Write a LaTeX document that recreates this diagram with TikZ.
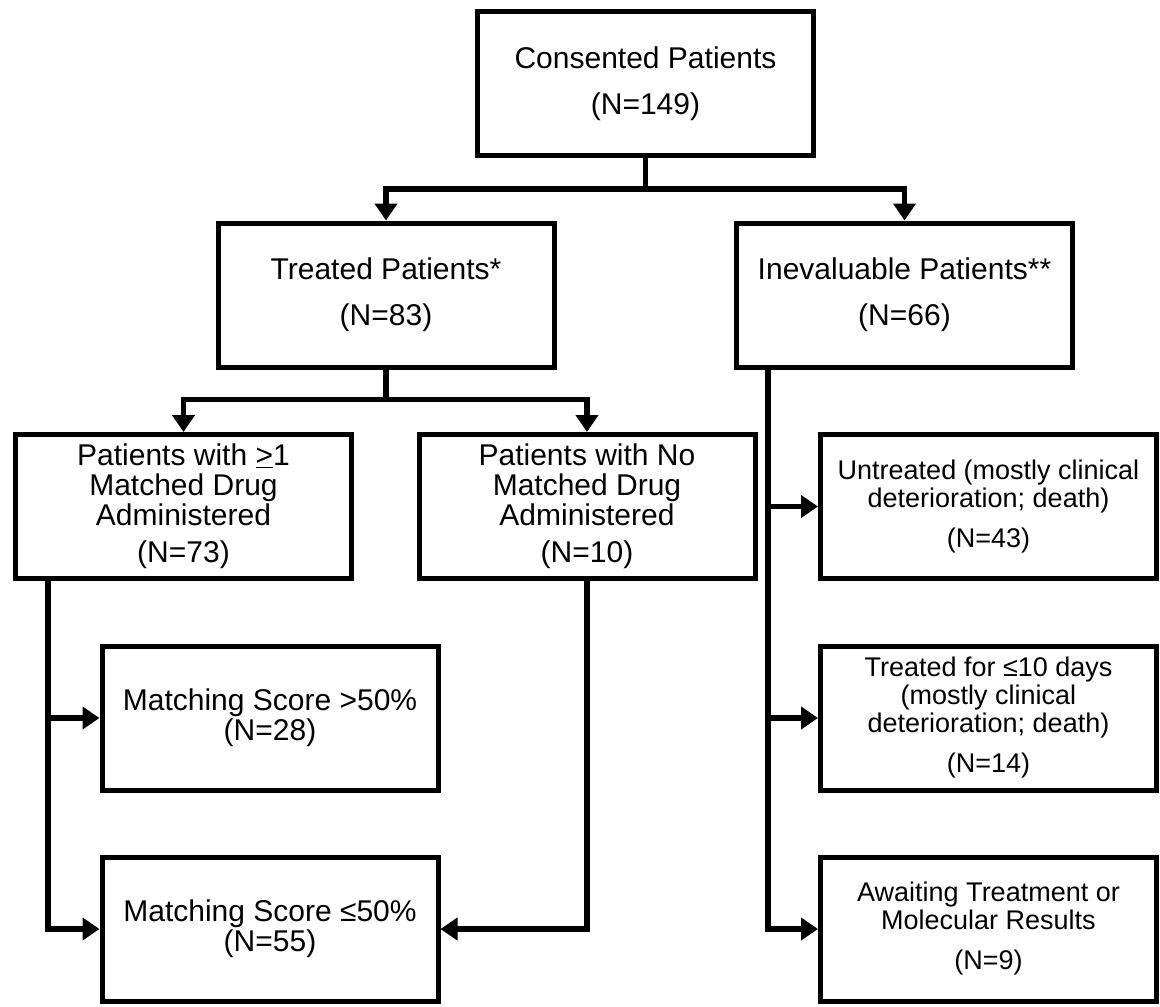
\documentclass[tikz,border=0pt]{standalone}
\usepackage{fontspec}
\setmainfont{Liberation Sans}
\usetikzlibrary{arrows.meta,positioning,calc}

\begin{document}
\begin{tikzpicture}[x=1pt, y=-1pt,
  box/.style={rectangle, draw=black, line width=5pt,
              minimum width=336pt, minimum height=144pt,
              inner sep=0pt, align=center, font=\fontsize{30}{30}\selectfont},
  sbox/.style={box, font=\fontsize{27}{28}\selectfont},
  arr/.style={-{Triangle[length=17pt,width=22pt]}, line width=5.5pt}
]
\useasboundingbox (0,0) rectangle (1160,1007);

% Row 1: all patients
\node[box] (consent) at (645.5,83.5) {Consented Patients\\[16pt](N=149)};

% Row 2: treated / inevaluable
\node[box] (treated) at (386,295) {Treated Patients*\\[16pt](N=83)};
\node[box] (ineval) at (904.5,295) {Inevaluable Patients**\\[16pt](N=66)};

% Row 3
\node[box] (matched) at (183.5,506.5) {Patients with \underline{>}1\\Matched Drug\\Administered\\[7pt](N=73)};
\node[box] (nomatch) at (587,506.5) {Patients with No\\Matched Drug\\Administered\\[7pt](N=10)};
\node[sbox] (untreated) at (988.5,506.5) {Untreated (mostly clinical\\deterioration; death)\\[12pt](N=43)};

% Row 4
\node[box] (high) at (270,718) {Matching Score >50\%\\(N=28)};
\node[sbox] (short) at (988.5,718) {Treated for ≤10 days\\(mostly clinical\\deterioration; death)\\[12pt](N=14)};

% Row 5
\node[box] (low) at (270,929) {Matching Score ≤50\%\\(N=55)};
\node[sbox] (await) at (988.5,929) {Awaiting Treatment or\\Molecular Results\\[12pt](N=9)};

% Spines
\coordinate (mspine) at ($(matched.south west)+(35,0)$);
\coordinate (ispine) at ($(ineval.south west)+(34,0)$);

% Arrows
\draw[arr] (consent.south) -- ++(0,31) -| (treated.north);
\draw[arr] (consent.south) -- ++(0,31) -| (ineval.north);
\draw[arr] (treated.south) -- ++(0,30) -| (matched.north);
\draw[arr] (treated.south) -- ++(0,30) -| (nomatch.north);
\draw[arr] (mspine) |- (high.west);
\draw[arr] (mspine) |- (low.west);
\draw[arr] (nomatch.south) |- (low.east);
\draw[arr] (ispine) |- (untreated.west);
\draw[arr] (ispine) |- (short.west);
\draw[arr] (ispine) |- (await.west);
\end{tikzpicture}
\end{document}
